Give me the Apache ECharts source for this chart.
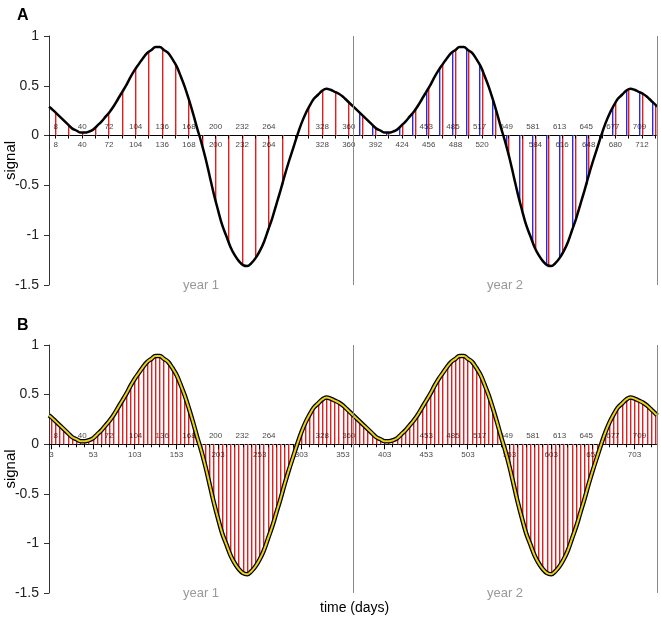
<!DOCTYPE html>
<html><head><meta charset="utf-8">
<script src="https://cdn.jsdelivr.net/npm/echarts@6/dist/echarts.min.js"></script>
<style>html,body{margin:0;padding:0;background:#fff}#c{width:661px;height:627px}</style>
</head><body><div id="c"></div>
<script>
// ---------- DATA ----------
const sampleStartB = 3;
const sampleStepB = 5;
const signalYear1 = [0.27,0.23,0.19,0.15,0.11,0.07,0.05,0.03,0.03,0.04,0.06,0.10,0.14,0.19,0.24,0.30,0.37,0.44,0.51,0.59,0.66,0.72,0.78,0.83,0.86,0.89,0.89,0.86,0.83,0.77,0.70,0.60,0.49,0.36,0.22,0.07,-0.07,-0.23,-0.41,-0.59,-0.75,-0.90,-1.01,-1.12,-1.20,-1.26,-1.30,-1.31,-1.28,-1.23,-1.16,-1.07,-0.95,-0.83,-0.69,-0.55,-0.40,-0.26,-0.13,0.00,0.12,0.22,0.30,0.37,0.41,0.45,0.47,0.46,0.44,0.42,0.39,0.35,0.31];
const signalYear2 = [0.27,0.23,0.19,0.15,0.11,0.07,0.05,0.03,0.03,0.04,0.06,0.10,0.14,0.19,0.24,0.30,0.37,0.44,0.51,0.59,0.66,0.72,0.78,0.83,0.86,0.89,0.89,0.86,0.83,0.77,0.70,0.60,0.49,0.36,0.22,0.07,-0.07,-0.23,-0.41,-0.59,-0.75,-0.90,-1.01,-1.12,-1.20,-1.26,-1.30,-1.31,-1.28,-1.23,-1.16,-1.07,-0.95,-0.83,-0.69,-0.55,-0.40,-0.26,-0.13,0.00,0.12,0.22,0.30,0.37,0.41,0.45,0.47,0.46,0.44,0.42,0.39,0.35,0.31];
const signalStart = [0, 0.29];
const signalEnd = [730, 0.29];

// Panel A stems (16-day samples)
const stemDaysA_year1 = [8,24,40,56,72,88,104,120,136,152,168,184,200,216,232,248,264,280,296,312,328,344,360];
const redStemsA_year1 = [0.23,0.10,0.03,0.08,0.23,0.44,0.67,0.85,0.87,0.72,0.36,-0.10,-0.66,-1.08,-1.30,-1.23,-0.93,-0.49,-0.05,0.29,0.45,0.44,0.34];
const redDaysA_year2 = [376,392,408,424,440,456,472,488,504,520,536,552,568,584,600,616,632,648,664,680,696,712,728];
const redStemsA_year2 = [0.20,0.08,0.03,0.11,0.27,0.49,0.71,0.86,0.85,0.66,0.27,-0.20,-0.75,-1.13,-1.31,-1.19,-0.85,-0.40,0.02,0.33,0.46,0.43,0.31];
const blueDaysA_year2 = [373,389,405,421,437,453,469,485,501,517,533,549,565,581,597,613,629,645,661,677,693,709,725];
const blueStemsA_year2 = [0.23,0.10,0.03,0.08,0.23,0.44,0.67,0.85,0.87,0.72,0.36,-0.10,-0.66,-1.08,-1.30,-1.23,-0.93,-0.49,-0.05,0.29,0.45,0.44,0.34];

// Tick labels
const aboveLabels = [8,40,72,104,136,168,200,232,264,328,360,453,485,517,549,581,613,645,677,709];
const belowLabelsA = [8,40,72,104,136,168,200,232,264,328,360,392,424,456,488,520,584,616,648,680,712];
const belowLabelsB = [3,53,103,153,203,253,303,353,403,453,503,553,603,653,703];
const minorTickStepB = 10;
const yearLabels = ['year 1', 'year 2'];
const yearLabelDays = [182.5, 547.5];
const yearBoundaries = [365, 730];

// ---------- BUILD ----------
const FONT = 'Liberation Sans, Arial, sans-serif';
const stemDaysB = [];
for (let i = 0; i < signalYear1.length + signalYear2.length; i++) stemDaysB.push(sampleStartB + sampleStepB * i);
const stemValuesB = signalYear1.concat(signalYear2);
const stemDataB = stemDaysB.map((d, i) => [d, stemValuesB[i]]);
const curveData = [signalStart].concat(stemDataB, [signalEnd]);
const ticksA = stemDaysA_year1.concat(redDaysA_year2);
const minorTicksB = [];
for (let d = sampleStartB; d <= 730; d += minorTickStepB) minorTicksB.push(d);

const pair = (days, vals) => days.map((d, i) => [d, vals[i]]);

function stemSeries(idx, data, color, halo) {
  return {
    type: 'custom', xAxisIndex: idx, yAxisIndex: idx, data: data, silent: true,
    encode: {x: 0, y: 1},
    renderItem: function (params, api) {
      const x = api.value(0), v = api.value(1);
      const p0 = api.coord([x, 0]), p1 = api.coord([x, v]);
      const left = Math.round(p0[0] - 0.5);
      const top = Math.min(p0[1], p1[1]), h = Math.abs(p1[1] - p0[1]);
      return {type: 'group', children: [
        {type: 'rect', shape: {x: left + 1, y: top, width: 1, height: h}, style: {fill: halo}},
        {type: 'rect', shape: {x: left, y: top, width: 1, height: h}, style: {fill: color}}
      ]};
    }
  };
}
function tickSeries(idx, days, len) {
  return {
    type: 'custom', xAxisIndex: idx, yAxisIndex: idx, silent: true,
    data: days.map(d => [d, 0]), encode: {x: 0, y: 1},
    renderItem: function (params, api) {
      const p = api.coord([api.value(0), 0]);
      const left = Math.round(p[0] - 0.5);
      return {type: 'rect', shape: {x: left, y: p[1], width: 1, height: len},
              style: {fill: '#000'}};
    }
  };
}
function labelSeries(idx, days, pos, dist) {
  return {
    type: 'scatter', xAxisIndex: idx, yAxisIndex: idx, silent: true,
    data: days.map(d => [d, 0]), symbolSize: 1, itemStyle: {color: 'rgba(0,0,0,0)'},
    label: {show: true, position: pos, distance: dist, formatter: p => String(p.value[0]),
            fontSize: 8, color: '#111', fontFamily: FONT}
  };
}
function yearSeries(idx) {
  return {
    type: 'scatter', xAxisIndex: idx, yAxisIndex: idx, silent: true,
    data: yearLabelDays.map(d => [d, -1.5]), symbolSize: 1, itemStyle: {color: 'rgba(0,0,0,0)'},
    label: {show: true, position: 'inside', formatter: p => yearLabels[p.dataIndex],
            fontSize: 13, color: '#808080', fontFamily: FONT}
  };
}
function curveSeries(idx, color, width, withLines) {
  const s = {
    type: 'line', xAxisIndex: idx, yAxisIndex: idx, data: curveData, smooth: 0.4,
    showSymbol: false, symbol: 'none', silent: true,
    lineStyle: {color: color, width: width}
  };
  if (withLines) {
    s.markLine = {silent: true, symbol: ['none', 'none'], label: {show: false},
      lineStyle: {color: '#888', width: 1, type: 'solid'},
      data: yearBoundaries.map(d => ({xAxis: d}))};
  }
  return s;
}
function xAx(idx) {
  return {gridIndex: idx, type: 'value', min: 0, max: 730,
    axisLine: {onZero: true, lineStyle: {color: '#000', width: 1}},
    axisTick: {show: false}, axisLabel: {show: false}, splitLine: {show: false}};
}
function yAx(idx) {
  return {gridIndex: idx, type: 'value', min: -1.5, max: 1, interval: 0.5,
    name: 'signal', nameLocation: 'middle', nameGap: 31, nameMoveOverlap: false,
    nameTextStyle: {fontSize: 15, color: '#000', fontFamily: FONT},
    axisLine: {show: true, lineStyle: {color: '#333'}},
    axisTick: {show: true, length: 5, lineStyle: {color: '#333'}},
    axisLabel: {fontSize: 14, color: '#222', margin: 10, fontFamily: FONT},
    splitLine: {show: false}};
}

const RED = '#e01e1e', PINK = '#f5a3a3', BLUE = '#2b2bdc', LIGHTBLUE = '#a8a8f2';
const option = {
  animation: false,
  backgroundColor: '#fff',
  title: [
    {text: 'A', left: 12, top: 3, textStyle: {fontSize: 16, fontWeight: 'bold', color: '#000', fontFamily: FONT}},
    {text: 'B', left: 12, top: 313, textStyle: {fontSize: 16, fontWeight: 'bold', color: '#000', fontFamily: FONT}}
  ],
  graphic: [{type: 'text', left: 320, top: 601,
    style: {text: 'time (days)', fontSize: 14, fill: '#000', fontFamily: FONT}}],
  grid: [
    {left: 49, right: 4, top: 36, height: 249, containLabel: false, outerBoundsMode: 'none'},
    {left: 49, right: 4, top: 345, height: 248, containLabel: false, outerBoundsMode: 'none'}
  ],
  xAxis: [xAx(0), xAx(1)],
  yAxis: [yAx(0), yAx(1)],
  series: [
    // Panel A
    stemSeries(0, pair(blueDaysA_year2, blueStemsA_year2), BLUE, LIGHTBLUE),
    stemSeries(0, pair(stemDaysA_year1, redStemsA_year1), RED, PINK),
    stemSeries(0, pair(redDaysA_year2, redStemsA_year2), RED, PINK),
    tickSeries(0, ticksA, 3),
    labelSeries(0, aboveLabels, 'top', 4),
    labelSeries(0, belowLabelsA, 'bottom', 5),
    yearSeries(0),
    curveSeries(0, '#000', 2.5, true),
    // Panel B
    stemSeries(1, stemDataB, RED, PINK),
    tickSeries(1, minorTicksB, 3),
    tickSeries(1, belowLabelsB, 5),
    labelSeries(1, aboveLabels, 'top', 4),
    labelSeries(1, belowLabelsB, 'bottom', 6),
    yearSeries(1),
    curveSeries(1, '#000', 4.5, true),
    curveSeries(1, '#e6d21a', 2, false)
  ]
};
const chart = echarts.init(document.getElementById('c'), null, {renderer: 'canvas'});
chart.setOption(option);
</script></body></html>
